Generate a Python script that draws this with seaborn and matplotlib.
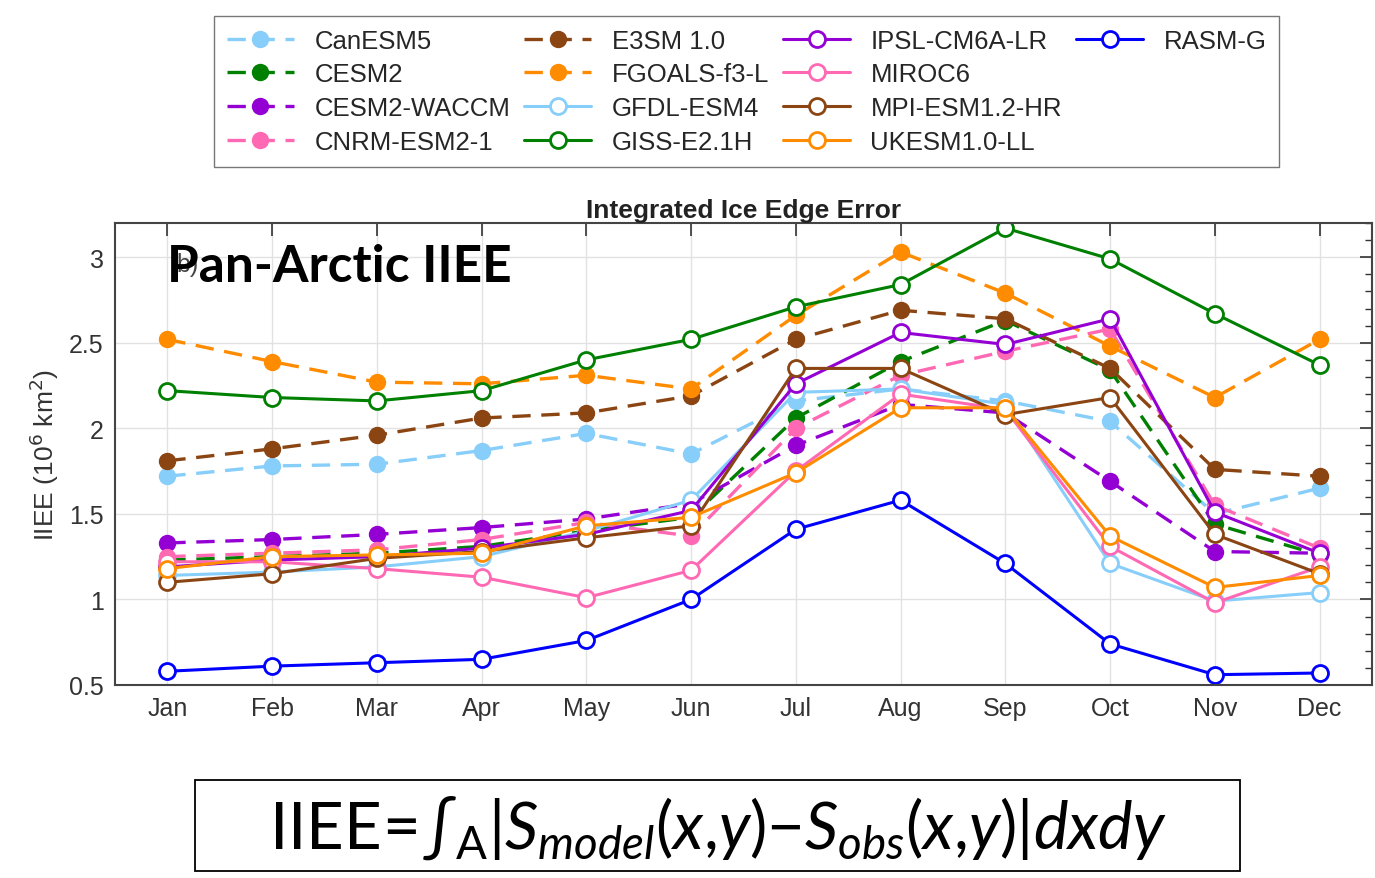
import numpy as np
import pandas as pd
import seaborn as sns
import matplotlib.pyplot as plt
from matplotlib.patches import Rectangle
from matplotlib.lines import Line2D
from matplotlib.ticker import MultipleLocator, FormatStrFormatter

months = ["Jan", "Feb", "Mar", "Apr", "May", "Jun",
          "Jul", "Aug", "Sep", "Oct", "Nov", "Dec"]

# dashed lines / filled markers
canesm5     = [1.72, 1.78, 1.79, 1.87, 1.97, 1.85, 2.16, 2.23, 2.16, 2.04, 1.50, 1.65]
cesm2       = [1.23, 1.25, 1.27, 1.31, 1.40, 1.48, 2.06, 2.39, 2.63, 2.34, 1.44, 1.26]
cesm2_waccm = [1.33, 1.35, 1.38, 1.42, 1.47, 1.56, 1.90, 2.14, 2.09, 1.69, 1.28, 1.27]
cnrm_esm2_1 = [1.25, 1.27, 1.29, 1.35, 1.45, 1.37, 2.00, 2.31, 2.45, 2.58, 1.55, 1.30]
e3sm_1_0    = [1.81, 1.88, 1.96, 2.06, 2.09, 2.19, 2.52, 2.69, 2.64, 2.35, 1.76, 1.72]
fgoals_f3_l = [2.52, 2.39, 2.27, 2.26, 2.31, 2.23, 2.66, 3.03, 2.79, 2.48, 2.18, 2.52]
# solid lines / open markers
gfdl_esm4   = [1.14, 1.16, 1.19, 1.25, 1.40, 1.58, 2.21, 2.23, 2.14, 1.21, 0.99, 1.04]
giss_e2_1h  = [2.22, 2.18, 2.16, 2.22, 2.40, 2.52, 2.71, 2.84, 3.17, 2.99, 2.67, 2.37]
ipsl_cm6a   = [1.19, 1.23, 1.25, 1.30, 1.38, 1.52, 2.26, 2.56, 2.49, 2.64, 1.51, 1.27]
miroc6      = [1.22, 1.22, 1.18, 1.13, 1.01, 1.17, 1.75, 2.20, 2.11, 1.31, 0.98, 1.19]
mpi_esm1_2  = [1.10, 1.15, 1.24, 1.28, 1.36, 1.43, 2.35, 2.35, 2.08, 2.18, 1.38, 1.15]
ukesm1_0_ll = [1.18, 1.25, 1.26, 1.27, 1.43, 1.48, 1.74, 2.12, 2.12, 1.37, 1.07, 1.14]
rasm_g      = [0.58, 0.61, 0.63, 0.65, 0.76, 1.00, 1.41, 1.58, 1.21, 0.74, 0.56, 0.57]

models = ["CanESM5", "CESM2", "CESM2-WACCM", "CNRM-ESM2-1",
          "E3SM 1.0", "FGOALS-f3-L", "GFDL-ESM4", "GISS-E2.1H",
          "IPSL-CM6A-LR", "MIROC6", "MPI-ESM1.2-HR", "UKESM1.0-LL", "RASM-G"]
values = [canesm5, cesm2, cesm2_waccm, cnrm_esm2_1, e3sm_1_0, fgoals_f3_l,
          gfdl_esm4, giss_e2_1h, ipsl_cm6a, miroc6, mpi_esm1_2, ukesm1_0_ll, rasm_g]
colors = ["#87CEFA", "#008000", "#9400D3", "#FF69B4", "#8B4513", "#FF8C00",
          "#87CEFA", "#008000", "#9400D3", "#FF69B4", "#8B4513", "#FF8C00", "#0000FF"]
dashed = ["CanESM5", "CESM2", "CESM2-WACCM", "CNRM-ESM2-1", "E3SM 1.0", "FGOALS-f3-L"]

sns.set_style("white")
plt.rcParams["font.family"] = ["Liberation Sans", "DejaVu Sans"]
plt.rcParams["mathtext.fontset"] = "custom"
plt.rcParams["mathtext.rm"] = "Lato"
plt.rcParams["mathtext.it"] = "Lato:italic"

fig = plt.figure(figsize=(13.75, 8.79), dpi=100)
ax = fig.add_axes([0.0836, 0.2196, 0.9142, 0.5256])

x = np.arange(len(months))
for name, vals, c in zip(models, values, colors):
    if name in dashed:
        sns.lineplot(x=x, y=vals, ax=ax, color=c, linestyle=(0, (5.5, 3.2)), lw=2.4,
                     marker="o", markersize=11.5, markerfacecolor=c,
                     markeredgecolor=c, markeredgewidth=1, label=name)
    else:
        sns.lineplot(x=x, y=vals, ax=ax, color=c, linestyle="-", lw=2.2,
                     marker="o", markersize=11.5, markerfacecolor="white",
                     markeredgecolor=c, markeredgewidth=2.0, label=name)

ax.set_xlim(-0.5, 11.5)
ax.set_ylim(0.5, 3.2)
ax.set_xticks(x)
ax.set_xticklabels(months)
ax.yaxis.set_major_locator(MultipleLocator(0.5))
ax.yaxis.set_minor_locator(MultipleLocator(0.1))
ax.yaxis.set_major_formatter(FormatStrFormatter("%g"))
ax.grid(True, which="major", color="#e2e2e2", lw=1)
ax.tick_params(which="both", direction="in", top=True, right=True,
               labelsize=18, colors="#333333", pad=8)
ax.tick_params(which="major", length=9, width=1.2)
ax.tick_params(which="minor", length=5, width=1)
ax.tick_params(axis="x", which="minor", top=False, bottom=False)
for sp in ax.spines.values():
    sp.set_color("#444444")
    sp.set_linewidth(1.5)

ax.set_title("Integrated Ice Edge Error", fontsize=19, fontweight="bold",
             color="#222222", pad=4)
ax.set_ylabel("IIEE (10$^6$ km$^2$)", fontsize=19, color="#333333",
              math_fontfamily="dejavusans", labelpad=6)
ax.set_xlabel("")

# legend: 4 columns filled 4/4/4/1 as in the original
handles, labels = ax.get_legend_handles_labels()
ax.get_legend().remove()
blank = Line2D([], [], color="none")
handles = handles + [blank] * 3
labels = labels + [""] * 3
fig.legend(handles, labels, ncol=4, loc="center", bbox_to_anchor=(0.543, 0.895),
           fontsize=18.5, frameon=True, fancybox=False, edgecolor="#555555",
           handlelength=2.6, handletextpad=0.8, columnspacing=0.55,
           labelspacing=0.38, borderpad=0.5)

fig.text(0.128, 0.698, "b)", fontsize=18, color="#444444", va="center")
fig.text(0.1215, 0.696, "Pan-Arctic IIEE", fontsize=37, fontweight="bold",
         family="Lato", color="black", va="center", ha="left")

fig.patches.append(Rectangle((0.1418, 0.008), 0.76, 0.1035, transform=fig.transFigure,
                             fill=False, ec="black", lw=1.3))
fig.text(0.522, 0.058,
         r"$\mathrm{IIEE}\!=\!∫_{\mathrm{A}}\mathrm{|}S_{model}(x{,}y){-}S_{obs}(x{,}y)\mathrm{|}dxdy$",
         fontsize=47, ha="center", va="center", color="black")

fig.savefig("out.png", dpi=100, facecolor="white")
